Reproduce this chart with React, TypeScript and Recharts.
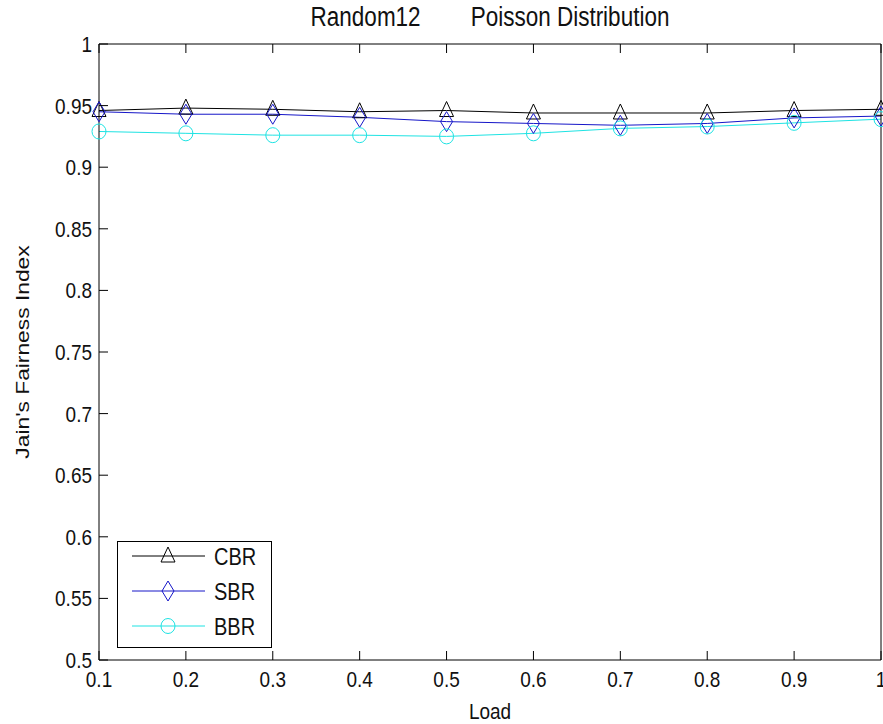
import { LineChart, Line, XAxis, YAxis, Legend } from "recharts"

const loads = [0.1, 0.2, 0.3, 0.4, 0.5, 0.6, 0.7, 0.8, 0.9, 1.0]
const cbr = [0.946, 0.948, 0.947, 0.945, 0.946, 0.944, 0.944, 0.944, 0.946, 0.947]
const sbr = [0.945, 0.943, 0.943, 0.9405, 0.937, 0.9355, 0.934, 0.9355, 0.94, 0.9415]
const bbr = [0.929, 0.9275, 0.926, 0.926, 0.925, 0.9275, 0.9315, 0.933, 0.936, 0.939]

const xTicks = [0.1, 0.2, 0.3, 0.4, 0.5, 0.6, 0.7, 0.8, 0.9, 1]
const yTicks = [0.5, 0.55, 0.6, 0.65, 0.7, 0.75, 0.8, 0.85, 0.9, 0.95, 1]

const titleText = "Random12        Poisson Distribution"
const xLabel = "Load"
const yLabel = "Jain's Fairness Index"

const data = loads.map((load, i) => ({
  load,
  CBR: cbr[i],
  SBR: sbr[i],
  BBR: bbr[i],
}))

const FONT = "'Liberation Sans', Arial, Helvetica, sans-serif"
const TEXT = "#111"
const TICK = 9

const series = [
  { key: "CBR", color: "#000000", marker: "tri" },
  { key: "SBR", color: "#1616c8", marker: "diamond" },
  { key: "BBR", color: "#1ee3e3", marker: "circle" },
]

function Marker({ kind, cx, cy, color }: any) {
  if (kind === "tri") {
    return (
      <polygon
        points={`${cx},${cy - 9} ${cx - 7},${cy + 6} ${cx + 7},${cy + 6}`}
        fill="none"
        stroke={color}
        strokeWidth={1}
      />
    )
  }
  if (kind === "diamond") {
    return (
      <polygon
        points={`${cx},${cy - 10} ${cx + 6},${cy} ${cx},${cy + 10} ${cx - 6},${cy}`}
        fill="none"
        stroke={color}
        strokeWidth={1}
      />
    )
  }
  return <ellipse cx={cx} cy={cy} rx={7} ry={7.5} fill="none" stroke={color} strokeWidth={1} />
}

function Txt({ x, y, anchor, size, children, rotate }: any) {
  const tf = rotate
    ? `translate(${x},${y}) rotate(-90) scale(1.2,1)`
    : `translate(${x},${y}) scale(1,1.2)`
  return (
    <text
      transform={tf}
      textAnchor={anchor}
      fontSize={size}
      fontFamily={FONT}
      fill={TEXT}
      style={{ whiteSpace: "pre" }}
    >
      {children}
    </text>
  )
}

function BottomTick({ x, y, payload }: any) {
  return (
    <g>
      <line x1={x} y1={y} x2={x} y2={y - TICK} stroke="#000" />
      <Txt x={x} y={y + 27} anchor="middle" size={19}>
        {String(payload.value)}
      </Txt>
    </g>
  )
}

function TopTick({ x, y }: any) {
  return <line x1={x} y1={y} x2={x} y2={y + TICK} stroke="#000" />
}

function LeftTick({ x, y, payload }: any) {
  return (
    <g>
      <line x1={x} y1={y} x2={x + TICK} y2={y} stroke="#000" />
      <Txt x={x - 7} y={y + 8} anchor="end" size={19}>
        {String(payload.value)}
      </Txt>
    </g>
  )
}

function RightTick({ x, y }: any) {
  return <line x1={x} y1={y} x2={x - TICK} y2={y} stroke="#000" />
}

function renderLegend() {
  return (
    <svg width={156} height={108} style={{ display: "block" }}>
      <rect x={0.5} y={0.5} width={154} height={106} fill="#fff" stroke="#000" />
      {series.map((s, i) => {
        const cy = 15 + i * 35
        return (
          <g key={s.key}>
            <line x1={15} y1={cy} x2={88} y2={cy} stroke={s.color} />
            <Marker kind={s.marker} cx={51} cy={cy} color={s.color} />
            <Txt x={97} y={cy + 9} anchor="start" size={20}>
              {s.key}
            </Txt>
          </g>
        )
      })}
    </svg>
  )
}

export default function App() {
  return (
    <div style={{ position: "absolute", left: 0, top: 0, background: "#fff" }}>
      <LineChart
        width={883}
        height={724}
        data={data}
        margin={{ top: 43, right: 1, bottom: 34, left: 39 }}
      >
        <XAxis
          dataKey="load"
          type="number"
          domain={[0.1, 1]}
          ticks={xTicks}
          interval={0}
          height={30}
          tickSize={0}
          tickMargin={0}
          tickLine={false}
          axisLine={{ stroke: "#000" }}
          tick={<BottomTick />}
          label={{
            content: (p: any) => (
              <Txt x={p.viewBox.x + p.viewBox.width / 2} y={p.viewBox.y + 59} anchor="middle" size={19}>
                {xLabel}
              </Txt>
            ),
          }}
        />
        <XAxis
          xAxisId="top"
          orientation="top"
          dataKey="load"
          type="number"
          domain={[0.1, 1]}
          ticks={xTicks}
          interval={0}
          height={1}
          tickSize={0}
          tickMargin={0}
          tickLine={false}
          axisLine={{ stroke: "#000" }}
          tick={<TopTick />}
          label={{
            content: (p: any) => (
              <Txt x={p.viewBox.x + p.viewBox.width / 2} y={p.viewBox.y + p.viewBox.height - 18} anchor="middle" size={22.5}>
                {titleText}
              </Txt>
            ),
          }}
        />
        <YAxis
          type="number"
          domain={[0.5, 1]}
          ticks={yTicks}
          interval={0}
          width={60}
          tickSize={0}
          tickMargin={0}
          tickLine={false}
          axisLine={{ stroke: "#000" }}
          tick={<LeftTick />}
          label={{
            content: (p: any) => (
              <Txt x={p.viewBox.x + p.viewBox.width - 70} y={p.viewBox.y + p.viewBox.height / 2} anchor="middle" size={19} rotate>
                {yLabel}
              </Txt>
            ),
          }}
        />
        <YAxis
          yAxisId="right"
          orientation="right"
          type="number"
          domain={[0.5, 1]}
          ticks={yTicks}
          interval={0}
          width={1}
          tickSize={0}
          tickMargin={0}
          tickLine={false}
          axisLine={{ stroke: "#000" }}
          tick={<RightTick />}
        />
        {series.map((s) => (
          <Line
            key={s.key}
            dataKey={s.key}
            name={s.key}
            type="linear"
            stroke={s.color}
            strokeWidth={1}
            isAnimationActive={false}
            activeDot={false}
            dot={(p: any) => (
              <Marker key={`${s.key}-${p.index}`} kind={s.marker} cx={p.cx} cy={p.cy} color={s.color} />
            )}
          />
        ))}
        <Legend
          layout="vertical"
          align="center"
          verticalAlign="middle"
          content={renderLegend}
          wrapperStyle={{ position: "absolute", left: 117, top: 541, width: 156, height: 108 }}
        />
      </LineChart>
    </div>
  )
}
